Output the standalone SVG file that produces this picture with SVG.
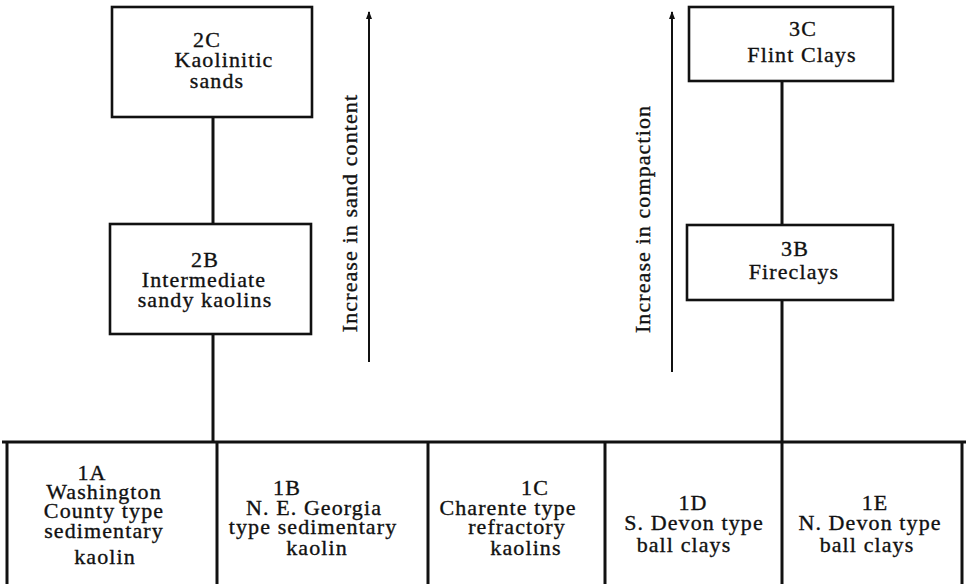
<svg xmlns="http://www.w3.org/2000/svg" width="968" height="584" viewBox="0 0 968 584">
<style>
text{font-family:"Liberation Serif","Times New Roman",serif;font-size:22px;letter-spacing:1.1px;fill:#111;stroke:#111;stroke-width:0.35;text-anchor:middle}
.box{fill:none;stroke:#111;stroke-width:2.6}
.ln{stroke:#111;stroke-width:3;fill:none}
.ar{stroke:#111;stroke-width:2;fill:none}
</style>
<defs>
<marker id="ah" markerWidth="8" markerHeight="10" refX="7" refY="4" orient="auto" markerUnits="userSpaceOnUse">
<path d="M0,1 L8,4 L0,7 Z" fill="#111"/>
</marker>
</defs>
<rect width="968" height="584" fill="#fff"/>
<g id="connectors">
<line class="ln" x1="213" y1="117" x2="213" y2="224"/>
<line class="ln" x1="213" y1="334" x2="213" y2="442"/>
<line class="ln" x1="782" y1="82" x2="782" y2="225"/>
<line class="ln" x1="782" y1="301" x2="782" y2="442"/>
<line class="ar" x1="369" y1="362" x2="369" y2="12" marker-end="url(#ah)"/>
<line class="ar" x1="672" y1="372" x2="672" y2="12" marker-end="url(#ah)"/>
</g>
<g id="label-sand"><text transform="translate(357,213) rotate(-90)">Increase in sand content</text></g>
<g id="label-compaction"><text transform="translate(650,219) rotate(-90)">Increase in compaction</text></g>
<g id="n2C">
<rect class="box" x="112" y="7" width="200" height="110"/>
<text x="207" y="47">2C</text>
<text x="224" y="67">Kaolinitic</text>
<text x="217" y="88">sands</text>
</g>
<g id="n2B">
<rect class="box" x="110" y="224" width="201" height="110"/>
<text x="205" y="267">2B</text>
<text x="204" y="287">Intermediate</text>
<text x="205" y="307">sandy kaolins</text>
</g>
<g id="n3C">
<rect class="box" x="689" y="7" width="204" height="74"/>
<text x="803" y="36">3C</text>
<text x="802" y="62">Flint Clays</text>
</g>
<g id="n3B">
<rect class="box" x="687" y="225" width="206" height="75"/>
<text x="795" y="256">3B</text>
<text x="794" y="279">Fireclays</text>
</g>
<g id="bar">
<line class="ln" x1="2" y1="442" x2="966" y2="442"/>
</g>
<g id="n1A">
<line class="ln" x1="7" y1="442" x2="7" y2="584"/>
<text x="92" y="480">1A</text>
<text x="104" y="499">Washington</text>
<text x="104" y="518">County type</text>
<text x="104" y="538">sedimentary</text>
<text x="105" y="564">kaolin</text>
</g>
<g id="n1B">
<line class="ln" x1="217" y1="442" x2="217" y2="584"/>
<text x="287" y="495">1B</text>
<text x="314" y="515">N. E. Georgia</text>
<text x="313" y="534">type sedimentary</text>
<text x="317" y="555">kaolin</text>
</g>
<g id="n1C">
<line class="ln" x1="428" y1="442" x2="428" y2="584"/>
<text x="535" y="495">1C</text>
<text x="508" y="515">Charente type</text>
<text x="517" y="534">refractory</text>
<text x="526" y="555">kaolins</text>
</g>
<g id="n1D">
<line class="ln" x1="605" y1="442" x2="605" y2="584"/>
<text x="693" y="510">1D</text>
<text x="694" y="530">S. Devon type</text>
<text x="684" y="552">ball clays</text>
</g>
<g id="n1E">
<line class="ln" x1="782" y1="442" x2="782" y2="584"/>
<line class="ln" x1="962" y1="442" x2="962" y2="584"/>
<text x="875" y="510">1E</text>
<text x="870" y="530">N. Devon type</text>
<text x="867" y="552">ball clays</text>
</g>
</svg>
